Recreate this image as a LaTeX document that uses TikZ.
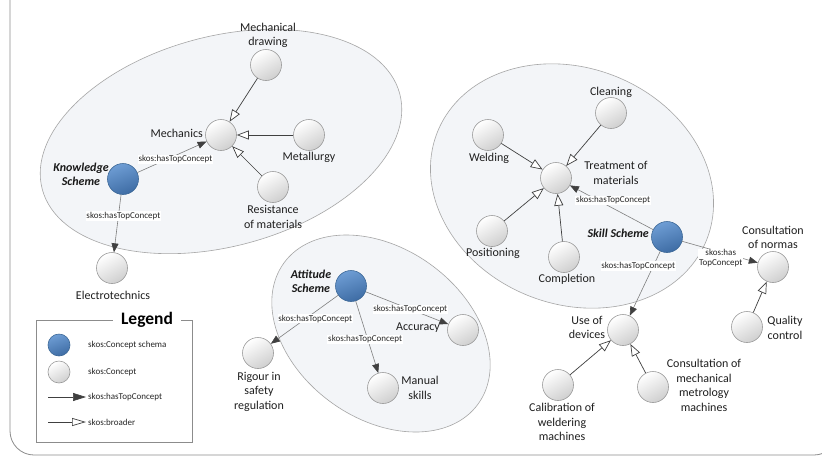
\documentclass[tikz,border=0pt]{standalone}
\usepackage{fontspec}
\setmainfont{Carlito}
\usetikzlibrary{arrows.meta,shapes.geometric}
\definecolor{linegray}{HTML}{404040}
\definecolor{toplinegray}{HTML}{7F7F7F}
\definecolor{circborder}{HTML}{9A9A9A}
\definecolor{circdark}{HTML}{CFCFCF}
\definecolor{bluetop}{HTML}{6E9DD4}
\definecolor{bluebot}{HTML}{3E6CA4}
\definecolor{blueborder}{HTML}{3C6897}
\definecolor{regionfill}{HTML}{F3F5F8}
\definecolor{regionborder}{HTML}{A6A6A6}
\definecolor{framegray}{HTML}{8C8C8C}
\begin{document}
\begin{tikzpicture}[x=1pt,y=-1pt,
  concept/.style={circle, draw=circborder, line width=0.6pt, minimum size=31pt, inner sep=0pt, top color=white, bottom color=circdark, shading angle=30},
  scheme/.style={circle, draw=blueborder, line width=0.6pt, minimum size=31pt, inner sep=0pt, top color=bluetop, bottom color=bluebot, shading angle=20},
  region/.style={ellipse, draw=regionborder, fill=regionfill, line width=0.6pt, inner sep=0pt},
  lbl/.style={font=\fontsize{12}{14.5}\selectfont, align=center, inner sep=0pt, text=black!88},
  schemelbl/.style={font=\fontsize{12}{14.5}\selectfont\bfseries\itshape, align=center, inner sep=0pt, text=black!90},
  elbl/.style={font=\fontsize{9}{10}\selectfont, fill=white, inner sep=0.8pt, align=center, text=black!85},
  leglbl/.style={font=\fontsize{9}{10}\selectfont, anchor=west, inner sep=0pt, text=black!85},
  topc/.style={draw=toplinegray, line width=0.6pt, -{Triangle[length=9pt,width=7pt,color=linegray]}},
  broader/.style={draw=linegray, line width=0.7pt, -{Triangle[open,length=12pt,width=9pt,fill=white]}},
]
\useasboundingbox (0,0) rectangle (822,461);
\clip (0,0) rectangle (822,461);
\fill[white] (0,0) rectangle (822,461);

% outer frame
\draw[framegray, line width=0.8pt, rounded corners=24pt] (10,-40) rectangle (838,455);

% regions
\node[region, minimum width=370pt, minimum height=210pt, rotate=15] (kreg) at (221,141.5) {};
\node[region, minimum width=290pt, minimum height=236pt, rotate=-22] (sreg) at (572,186) {};
\node[region, minimum width=240pt, minimum height=170pt, rotate=-36] (areg) at (381,333.5) {};

% knowledge scheme
\node[concept] (mdraw) at (266,65) {};
\node[concept] (mech) at (221,135) {};
\node[concept] (metal) at (309,135) {};
\node[concept] (resist) at (273,187) {};
\node[scheme] (know) at (123,179) {};
\node[concept] (electro) at (112,268) {};

\node[lbl] (tmdraw) at (268,35.5) {Mechanical\\drawing};
\node[lbl, anchor=east] (tmech) at (203,133) {Mechanics};
\node[lbl] (tmetal) at (309,157) {Metallurgy};
\node[lbl] (tresist) at (273,217) {Resistance\\of materials};
\node[schemelbl] (tknow) at (81,174.5) {Knowledge\\Scheme};
\node[lbl] (telectro) at (113,295) {Electrotechnics};

% skill scheme
\node[concept] (clean) at (611,113) {};
\node[concept] (weld) at (488,135) {};
\node[concept] (treat) at (556,178) {};
\node[concept] (posit) at (492,231) {};
\node[concept] (compl) at (564,257) {};
\node[scheme] (skill) at (667,237) {};
\node[concept] (normas) at (773,267) {};
\node[concept] (usedev) at (623,330) {};
\node[concept] (calib) at (558,385) {};
\node[concept] (metro) at (653,387) {};
\node[concept] (quality) at (747,327) {};

\node[lbl] (tclean) at (611,92) {Cleaning};
\node[lbl] (tweld) at (489,158) {Welding};
\node[lbl] (ttreat) at (616,173) {Treatment of\\materials};
\node[lbl] (tposit) at (493,253) {Positioning};
\node[lbl] (tcompl) at (567,279) {Completion};
\node[schemelbl, anchor=east] (tskill) at (649,233) {Skill Scheme};
\node[lbl] (tnormas) at (773,237.5) {Consultation\\of normas};
\node[lbl] (tusedev) at (587,327.5) {Use of\\devices};
\node[lbl] (tcalib) at (562,422) {Calibration of\\weldering\\machines};
\node[lbl] (tmetro) at (704,385.5) {Consultation of\\mechanical\\metrology\\machines};
\node[lbl] (tquality) at (785,328) {Quality\\control};

% attitude scheme
\node[scheme] (att) at (351,286) {};
\node[concept] (rigour) at (258,353) {};
\node[concept] (accur) at (463,330) {};
\node[concept] (manual) at (383,388) {};

\node[schemelbl] (tatt) at (311,281.5) {Attitude\\Scheme};
\node[lbl] (trigour) at (259,391.5) {Rigour in\\safety\\regulation};
\node[lbl] (taccur) at (418,328) {Accuracy};
\node[lbl] (tmanual) at (420,388) {Manual\\skills};

% broader connectors
\draw[broader] (mdraw) -- (mech);
\draw[broader] (metal) -- (mech);
\draw[broader] (resist) -- (mech);
\draw[broader] (weld) -- (treat);
\draw[broader] (clean) -- (treat);
\draw[broader] (posit) -- (treat);
\draw[broader] (compl) -- (treat);
\draw[broader] (quality) -- (normas);
\draw[broader] (calib) -- (usedev);
\draw[broader] (metro) -- (usedev);

% hasTopConcept connectors
\draw[topc] (know) -- node[elbl, pos=0.55, yshift=-4pt] (e1) {skos:hasTopConcept} (mech);
\draw[topc] (know) -- node[elbl, pos=0.37, xshift=5pt] (e2) {skos:hasTopConcept} (electro);
\draw[topc] (skill) -- node[elbl, pos=0.48, yshift=8pt] (e3) {skos:hasTopConcept} (treat);
\draw[topc] (skill) -- node[elbl, pos=0.23, xshift=-15pt] (e4) {skos:hasTopConcept} (usedev);
\draw[topc] (skill) -- node[elbl, pos=0.51, yshift=-6pt, font=\fontsize{9}{10}\selectfont] (e5) {skos:has\\TopConcept} (normas);
\draw[topc] (att) -- node[elbl, pos=0.34, yshift=-7pt] (e6) {skos:hasTopConcept} (rigour);
\draw[topc] (att) -- node[elbl, pos=0.53, xshift=-2.5pt] (e7) {skos:hasTopConcept} (manual);
\draw[topc] (att) -- node[elbl, pos=0.54] (e8) {skos:hasTopConcept} (accur);

% legend
\node[draw=framegray, line width=0.7pt, minimum width=156pt, minimum height=122pt, inner sep=0pt] (legbox) at (114,381) {};
\node[fill=white, font=\fontsize{17.5}{20}\selectfont\bfseries, inner xsep=8pt, inner ysep=1pt] (legtitle) at (147,320) {Legend};
\node[scheme, minimum size=22pt] (legs) at (59,345) {};
\node[concept, minimum size=22pt] (legc) at (59,372) {};
\coordinate (la1) at (48,397);
\coordinate (lb1) at (86,397);
\coordinate (la2) at (48,422);
\coordinate (lb2) at (86,422);
\draw[draw=linegray, line width=0.7pt, -{Triangle[length=13pt,width=8pt,color=linegray]}] (la1) -- (lb1);
\draw[draw=linegray, line width=0.7pt, -{Triangle[open,length=14pt,width=8pt,fill=white]}] (la2) -- (lb2);
\node[leglbl] (lt1) at (88,345) {skos:Concept schema};
\node[leglbl] (lt2) at (88,372) {skos:Concept};
\node[leglbl] (lt3) at (88,397) {skos:hasTopConcept};
\node[leglbl] (lt4) at (88,422) {skos:broader};
\end{tikzpicture}
\end{document}
